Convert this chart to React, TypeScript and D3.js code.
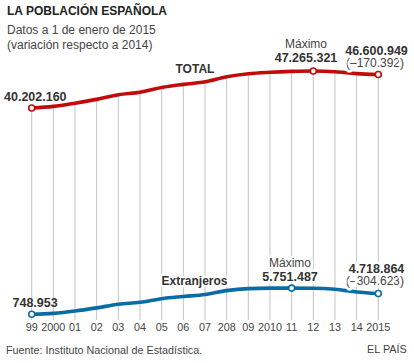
import * as d3 from 'd3';
import React from 'react';

const years = [1999, 2000, 2001, 2002, 2003, 2004, 2005, 2006, 2007, 2008, 2009, 2010, 2011, 2012, 2013, 2014, 2015];
const yearLabels = ['99', '2000', '01', '02', '03', '04', '05', '06', '07', '208', '09', '2010', '11', '12', '13', '14', '2015'];

const total = [
  40202160, 40499791, 41116842, 41837894, 42717064, 43197684, 44108530, 44708964, 45200737,
  46157822, 46745807, 47021031, 47190493, 47265321, 47129783, 46771341, 46600949,
];
const extranjeros = [
  748953, 923879, 1370657, 1977946, 2664168, 3034326, 3730610, 4144166, 4519554,
  5268762, 5648671, 5747734, 5751487, 5736258, 5546238, 5023487, 4718864,
];

const RED = '#c20a0a';
const BLUE = '#0a6ca6';
const FONT = 'Liberation Sans, Arial, sans-serif';

const fmt = (v: number) => d3.format(',')(v).replace(/,/g, '.');

const App: React.FC = () => {
  const width = 414;
  const height = 363;

  const x = d3.scalePoint<number>().domain(years).range([31.7, 378.3]);
  const y = d3.scaleLinear().domain([0, 50000000]).range([318.2, 56.7]);
  const baseY = 320;

  const mkLine = d3
    .line<number>()
    .x((_, i) => x(years[i]) as number)
    .y((d) => y(d))
    .curve(d3.curveMonotoneX);

  const iMaxT = total.indexOf(d3.max(total) as number);
  const iMaxE = extranjeros.indexOf(d3.max(extranjeros) as number);
  const last = years.length - 1;

  const halo = { stroke: 'white', strokeWidth: 5, paintOrder: 'stroke' as const, strokeLinejoin: 'round' as const };

  return (
    <svg width={width} height={height} style={{ position: 'absolute', left: 0, top: 0, background: 'white' }}>
      <g fontFamily={FONT}>
        <text x={7} y={15} fontSize={12} fontWeight="bold" fill="#222">LA POBLACIÓN ESPAÑOLA</text>
        <text x={7} y={33.5} fontSize={12} fill="#444">Datos a 1 de enero de 2015</text>
        <text x={7} y={49} fontSize={12} fill="#444">(variación respecto a 2014)</text>

        {years.map((yr, i) => (
          <line
            key={yr}
            x1={x(yr)}
            x2={x(yr)}
            y1={y(total[i])}
            y2={baseY}
            stroke="#c4c4c4"
            strokeWidth={1}
          />
        ))}

        {years.map((yr, i) => (
          <text key={yr} x={x(yr)} y={330.5} fontSize={10.8} fill="#444" textAnchor="middle">
            {yearLabels[i]}
          </text>
        ))}

        <text x={175.5} y={72.5} fontSize={12} fontWeight="bold" fill="#333" {...halo}>TOTAL</text>
        <text x={161.5} y={285} fontSize={12} fontWeight="bold" fill="#333" {...halo}>Extranjeros</text>

        <path d={mkLine(total) || ''} fill="none" stroke={RED} strokeWidth={3.6} />
        <path d={mkLine(extranjeros) || ''} fill="none" stroke={BLUE} strokeWidth={3.6} />

        {[0, iMaxT, last].map((i) => (
          <circle key={'t' + i} cx={x(years[i])} cy={y(total[i])} r={3} fill="white" stroke={RED} strokeWidth={1.6} />
        ))}
        {[0, iMaxE, last].map((i) => (
          <circle key={'e' + i} cx={x(years[i])} cy={y(extranjeros[i])} r={3} fill="white" stroke={BLUE} strokeWidth={1.6} />
        ))}

        <text x={4} y={100.5} fontSize={12.5} fontWeight="bold" fill="#333">{fmt(total[0])}</text>
        <text x={12.5} y={307.3} fontSize={12.5} fontWeight="bold" fill="#333">{fmt(extranjeros[0])}</text>

        <g textAnchor="middle" {...halo}>
          <text x={306} y={48} fontSize={12} fill="#444">Máximo</text>
          <text x={306} y={61.7} fontSize={12.5} fontWeight="bold" fill="#333">{fmt(total[iMaxT])}</text>
          <text x={376.5} y={55} fontSize={12.5} fontWeight="bold" fill="#333">{fmt(total[last])}</text>
          <text x={375} y={66.7} fontSize={12} fill="#444">({'\u2013'}{fmt(total[last - 1] - total[last])})</text>

          <text x={290} y={266.7} fontSize={12} fill="#444">Máximo</text>
          <text x={290} y={281} fontSize={12.5} fontWeight="bold" fill="#333">{fmt(extranjeros[iMaxE])}</text>
          <text x={376.5} y={273.3} fontSize={12.5} fontWeight="bold" fill="#333">{fmt(extranjeros[last])}</text>
          <text x={375} y={285} fontSize={12} fill="#444">({'\u2013'}{fmt(extranjeros[last - 1] - extranjeros[last])})</text>
        </g>

        <text x={6} y={354.3} fontSize={10.8} fill="#444">Fuente: Instituto Nacional de Estadística.</text>
        <text x={406.7} y={353.3} fontSize={10.8} fill="#444" textAnchor="end">EL PAÍS</text>
      </g>
    </svg>
  );
};

export default App;
